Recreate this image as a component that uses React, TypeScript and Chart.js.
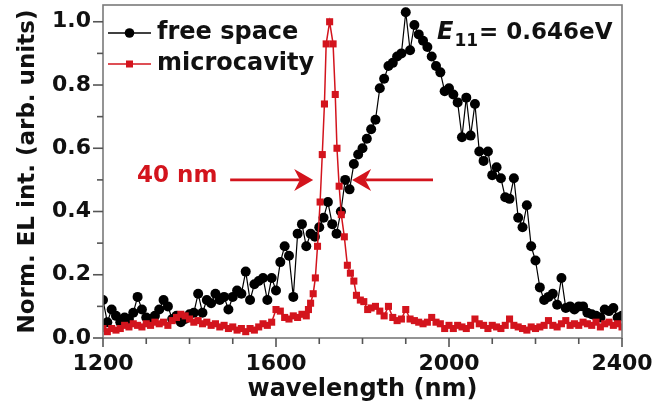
import React, { useEffect, useRef } from 'react';
import { Chart, registerables } from 'chart.js';
Chart.register(...registerables);

// ---------- data ----------
const freeSpaceNm = [
  1200, 1210, 1220, 1230, 1240, 1250, 1260, 1270, 1280, 1290,
  1300, 1310, 1320, 1330, 1340, 1350, 1360, 1370, 1380, 1390,
  1400, 1410, 1420, 1430, 1440, 1450, 1460, 1470, 1480, 1490,
  1500, 1510, 1520, 1530, 1540, 1550, 1560, 1570, 1580, 1590,
  1600, 1610, 1620, 1630, 1640, 1650, 1660, 1670, 1680, 1690,
  1700, 1710, 1720, 1730, 1740, 1750, 1760, 1770, 1780, 1790,
  1800, 1810, 1820, 1830, 1840, 1850, 1860, 1870, 1880, 1890,
  1900, 1910, 1920, 1930, 1940, 1950, 1960, 1970, 1980, 1990,
  2000, 2010, 2020, 2030, 2040, 2050, 2060, 2070, 2080, 2090,
  2100, 2110, 2120, 2130, 2140, 2150, 2160, 2170, 2180, 2190,
  2200, 2210, 2220, 2230, 2240, 2250, 2260, 2270, 2280, 2290,
  2300, 2310, 2320, 2330, 2340, 2350, 2360, 2370, 2380, 2390,
  2400,
];
const freeSpaceInt = [
  0.12, 0.05, 0.09, 0.07, 0.05, 0.065, 0.06, 0.08, 0.13, 0.09,
  0.065, 0.06, 0.07, 0.09, 0.12, 0.10, 0.06, 0.07, 0.05, 0.06,
  0.075, 0.08, 0.14, 0.08, 0.12, 0.11, 0.14, 0.12, 0.13, 0.09,
  0.13, 0.15, 0.14, 0.21, 0.12, 0.17, 0.18, 0.19, 0.12, 0.19,
  0.15, 0.24, 0.29, 0.26, 0.13, 0.33, 0.36, 0.29, 0.33, 0.32,
  0.35, 0.38, 0.43, 0.36, 0.33, 0.40, 0.50, 0.47, 0.55, 0.58,
  0.60, 0.63, 0.66, 0.69, 0.79, 0.82, 0.86, 0.87, 0.89, 0.90,
  1.03, 0.91, 0.99, 0.96, 0.94, 0.92, 0.89, 0.86, 0.84, 0.78,
  0.79, 0.77, 0.745, 0.635, 0.76, 0.64, 0.74, 0.59, 0.56, 0.59,
  0.515, 0.54, 0.505, 0.445, 0.44, 0.505, 0.38, 0.35, 0.42, 0.29,
  0.245, 0.16, 0.12, 0.13, 0.14, 0.105, 0.19, 0.095, 0.10, 0.09,
  0.10, 0.10, 0.08, 0.075, 0.07, 0.065, 0.09, 0.085, 0.095, 0.065,
  0.07,
];

const cavityNm = [
  1200, 1210, 1220, 1230, 1240, 1250, 1260, 1270, 1280, 1290,
  1300, 1310, 1320, 1330, 1340, 1350, 1360, 1370, 1380, 1390,
  1400, 1410, 1420, 1430, 1440, 1450, 1460, 1470, 1480, 1490,
  1500, 1510, 1520, 1530, 1540, 1550, 1560, 1570, 1580, 1590,
  1600, 1610, 1620, 1630, 1640, 1650, 1660, 1670, 1675, 1680,
  1686, 1691, 1696, 1702, 1707, 1712, 1716, 1724, 1732, 1737,
  1741, 1746, 1751, 1758, 1765, 1772, 1780, 1786, 1795, 1803,
  1812, 1820, 1830, 1840, 1850, 1860, 1870, 1880, 1890, 1900,
  1910, 1920, 1930, 1940, 1950, 1960, 1970, 1980, 1990, 2000,
  2010, 2020, 2030, 2040, 2050, 2060, 2070, 2080, 2090, 2100,
  2110, 2120, 2130, 2140, 2150, 2160, 2170, 2180, 2190, 2200,
  2210, 2220, 2230, 2240, 2250, 2260, 2270, 2280, 2290, 2300,
  2310, 2320, 2330, 2340, 2350, 2360, 2370, 2380, 2390, 2400,
];
const cavityInt = [
  0.03, 0.02, 0.03, 0.025, 0.03, 0.04, 0.035, 0.045, 0.04, 0.035,
  0.045, 0.04, 0.05, 0.045, 0.05, 0.04, 0.055, 0.065, 0.075, 0.07,
  0.06, 0.05, 0.055, 0.045, 0.05, 0.04, 0.045, 0.035, 0.04, 0.03,
  0.035, 0.025, 0.03, 0.02, 0.03, 0.025, 0.035, 0.045, 0.04, 0.05,
  0.09, 0.085, 0.065, 0.06, 0.07, 0.065, 0.075, 0.07, 0.09, 0.11,
  0.14, 0.19, 0.29, 0.43, 0.58, 0.74, 0.93, 1.0, 0.93, 0.77,
  0.60, 0.48, 0.39, 0.32, 0.23, 0.205, 0.18, 0.135, 0.12, 0.115,
  0.09, 0.095, 0.10, 0.085, 0.07, 0.10, 0.065, 0.055, 0.06, 0.09,
  0.06, 0.055, 0.05, 0.045, 0.05, 0.065, 0.05, 0.045, 0.03, 0.04,
  0.03, 0.04, 0.035, 0.03, 0.04, 0.06, 0.045, 0.04, 0.03, 0.04,
  0.035, 0.03, 0.04, 0.06, 0.04, 0.035, 0.03, 0.025, 0.035, 0.03,
  0.035, 0.04, 0.055, 0.04, 0.035, 0.045, 0.055, 0.04, 0.045, 0.04,
  0.05, 0.045, 0.04, 0.05, 0.035, 0.045, 0.05, 0.04, 0.045, 0.035,
];

const xTickValues = [1200, 1300, 1400, 1500, 1600, 1700, 1800, 1900, 2000, 2100, 2200, 2300, 2400];
const xLabelValues = [1200, 1600, 2000, 2400];
const yTickValues = [0, 0.1, 0.2, 0.3, 0.4, 0.5, 0.6, 0.7, 0.8, 0.9, 1.0];
const yLabelValues = [0, 0.2, 0.4, 0.6, 0.8, 1.0];
const seriesNames = ['free space', 'microcavity'];
const fwhmLabel = '40 nm';
const fwhmArrowLeftNm = [1494, 1686];
const fwhmArrowRightNm = [1963, 1776];
const fwhmArrowLevel = 0.5;
const energyLabel = { symbol: 'E', sub: '11', rest: '= 0.646eV' };

const RED = '#d3141d';
const BLACK = '#000000';
const FONT = "'DejaVu Sans', sans-serif";

const near = (a: number, b: number) => Math.abs(a - b) < 1e-6;

const decorPlugin = {
  id: 'decor',
  afterDraw(chart: any) {
    const { ctx, chartArea, scales } = chart;
    const xs = scales.x;
    const ys = scales.y;
    const { left, right, top, bottom } = chartArea;
    ctx.save();
    // frame
    ctx.strokeStyle = '#7a7a7a';
    ctx.lineWidth = 1.6;
    ctx.strokeRect(left, top, right - left, bottom - top);
    // ticks
    ctx.strokeStyle = '#555';
    ctx.lineWidth = 1.6;
    xTickValues.forEach((v) => {
      const px = xs.getPixelForValue(v);
      const len = xLabelValues.some((l) => near(l, v)) ? 9 : 6;
      ctx.beginPath();
      ctx.moveTo(px, bottom);
      ctx.lineTo(px, bottom + len);
      ctx.stroke();
    });
    yTickValues.forEach((v) => {
      const py = ys.getPixelForValue(v);
      const len = yLabelValues.some((l) => near(l, v)) ? 10 : 6;
      ctx.beginPath();
      ctx.moveTo(left, py);
      ctx.lineTo(left - len, py);
      ctx.stroke();
    });

    // legend
    const legendRows = [
      { name: seriesNames[0], color: BLACK, y: 33, shape: 'circle' },
      { name: seriesNames[1], color: RED, y: 64, shape: 'rect' },
    ];
    legendRows.forEach((r) => {
      ctx.strokeStyle = r.color;
      ctx.fillStyle = r.color;
      ctx.lineWidth = 1.5;
      ctx.beginPath();
      ctx.moveTo(108, r.y);
      ctx.lineTo(151, r.y);
      ctx.stroke();
      if (r.shape === 'circle') {
        ctx.beginPath();
        ctx.arc(129.5, r.y, 4.8, 0, Math.PI * 2);
        ctx.fill();
      } else {
        ctx.fillRect(126, r.y - 3.5, 7, 7);
      }
      ctx.fillStyle = '#111';
      ctx.font = `bold 24px ${FONT}`;
      ctx.textBaseline = 'middle';
      ctx.textAlign = 'left';
      ctx.fillText(r.name, 157, r.y);
    });

    // E11 annotation
    let ex = 437;
    const ey = 33;
    ctx.fillStyle = '#111';
    ctx.textBaseline = 'middle';
    ctx.font = `italic bold 24px ${FONT}`;
    ctx.fillText(energyLabel.symbol, ex, ey);
    ex += ctx.measureText(energyLabel.symbol).width + 1;
    ctx.font = `bold 17px ${FONT}`;
    ctx.fillText(energyLabel.sub, ex, ey + 9);
    ex += ctx.measureText(energyLabel.sub).width + 1;
    ctx.font = `bold 23px ${FONT}`;
    ctx.fillText(energyLabel.rest, ex, ey);

    // FWHM label + arrows
    const ay = ys.getPixelForValue(fwhmArrowLevel);
    ctx.fillStyle = RED;
    ctx.font = `bold 23px ${FONT}`;
    ctx.fillText(fwhmLabel, 137, ay - 4);
    const drawArrow = (fromNm: number, toNm: number) => {
      const x0 = xs.getPixelForValue(fromNm);
      const x1 = xs.getPixelForValue(toNm);
      const dir = Math.sign(x1 - x0);
      const headLen = 19;
      ctx.strokeStyle = RED;
      ctx.lineWidth = 2.6;
      ctx.beginPath();
      ctx.moveTo(x0, ay);
      ctx.lineTo(x1 - dir * headLen * 0.7, ay);
      ctx.stroke();
      ctx.fillStyle = RED;
      ctx.beginPath();
      ctx.moveTo(x1, ay);
      ctx.lineTo(x1 - dir * headLen, ay - 11);
      ctx.lineTo(x1 - dir * headLen * 0.7, ay);
      ctx.lineTo(x1 - dir * headLen, ay + 11);
      ctx.closePath();
      ctx.fill();
    };
    drawArrow(fwhmArrowLeftNm[0], fwhmArrowLeftNm[1]);
    drawArrow(fwhmArrowRightNm[0], fwhmArrowRightNm[1]);
    ctx.restore();
  },
};

export default function App() {
  const canvasRef = useRef<HTMLCanvasElement | null>(null);

  useEffect(() => {
    document.body.style.margin = '0';
    const canvas = canvasRef.current;
    if (!canvas) return;
    Chart.defaults.font.family = FONT;
    const chart = new Chart(canvas, {
      type: 'line',
      data: {
        datasets: [
          {
            label: seriesNames[0],
            data: freeSpaceNm.map((x, i) => ({ x, y: freeSpaceInt[i] })),
            borderColor: BLACK,
            backgroundColor: BLACK,
            borderWidth: 1.2,
            pointRadius: 5,
            pointBorderWidth: 0,
            pointStyle: 'circle',
            order: 1,
          },
          {
            label: seriesNames[1],
            data: cavityNm.map((x, i) => ({ x, y: cavityInt[i] })),
            borderColor: RED,
            backgroundColor: RED,
            borderWidth: 1.5,
            pointRadius: 5,
            pointBorderWidth: 0,
            pointStyle: 'rect',
            order: 0,
          },
        ],
      },
      options: {
        animation: false,
        responsive: false,
        maintainAspectRatio: false,
        layout: { padding: { left: 0, top: 5, right: 31, bottom: 0 } },
        plugins: { legend: { display: false }, tooltip: { enabled: false } },
        scales: {
          x: {
            type: 'linear',
            min: 1200,
            max: 2400,
            afterBuildTicks: (s: any) => {
              s.ticks = xTickValues.map((v) => ({ value: v }));
            },
            afterFit: (s: any) => {
              s.height = 72;
              s.paddingLeft = 0;
              s.paddingRight = 0;
            },
            grid: { display: false, drawTicks: false },
            border: { display: false },
            ticks: {
              autoSkip: false,
              maxRotation: 0,
              padding: 13,
              color: '#111',
              font: { size: 22, weight: 'bold', family: FONT },
              callback: (v: any) => (xLabelValues.some((l) => near(l, Number(v))) ? String(v) : ''),
            },
            title: {
              display: true,
              text: 'wavelength (nm)',
              color: '#111',
              font: { size: 24, weight: 'bold', family: FONT },
              padding: { top: 0, bottom: 6 },
            },
          },
          y: {
            type: 'linear',
            min: 0,
            max: 1.053,
            afterBuildTicks: (s: any) => {
              s.ticks = yTickValues.map((v) => ({ value: v }));
            },
            afterFit: (s: any) => {
              s.width = 103;
              s.paddingTop = 0;
              s.paddingBottom = 0;
            },
            grid: { display: false, drawTicks: false },
            border: { display: false },
            ticks: {
              autoSkip: false,
              padding: 12,
              color: '#111',
              font: { size: 22, weight: 'bold', family: FONT },
              callback: (v: any) => (yLabelValues.some((l) => near(l, Number(v))) ? Number(v).toFixed(1) : ''),
            },
            title: {
              display: true,
              text: 'Norm. EL int. (arb. units)',
              color: '#111',
              font: { size: 23, weight: 'bold', family: FONT },
              padding: { top: 14, bottom: 0 },
            },
          },
        },
      },
      plugins: [decorPlugin],
    } as any);
    return () => chart.destroy();
  }, []);

  return (
    <div style={{ width: 653, height: 410, background: '#fff' }}>
      <canvas ref={canvasRef} width={653} height={410} style={{ display: 'block' }} />
    </div>
  );
}
